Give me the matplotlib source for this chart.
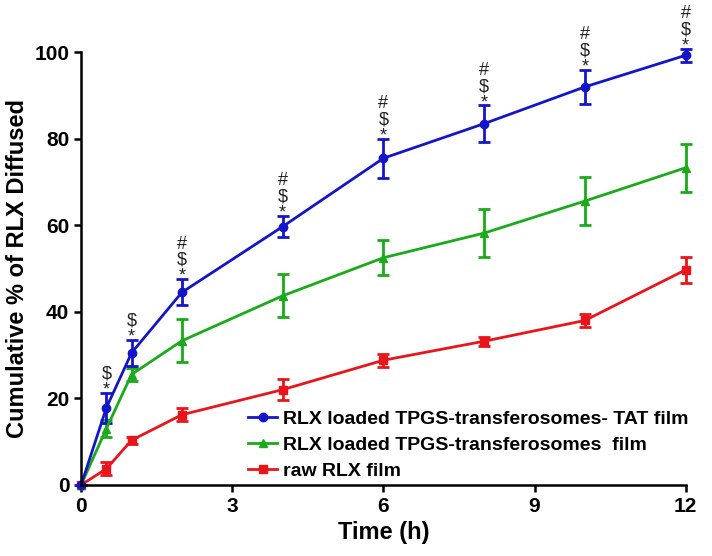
import matplotlib.pyplot as plt
from matplotlib.lines import Line2D

plt.rcParams['font.family'] = ['Liberation Sans', 'DejaVu Sans']

time = [0, 0.5, 1, 2, 4, 6, 8, 10, 12]

tat = [0, 17.8, 30.5, 44.5, 59.7, 75.5, 83.5, 92.0, 99.3]
tat_err = [0, 3.5, 3.0, 3.0, 2.5, 4.5, 4.2, 4.0, 1.5]

tpgs = [0, 13.0, 25.5, 33.3, 43.7, 52.5, 58.2, 65.6, 73.3]
tpgs_err = [0, 2.0, 1.5, 5.0, 5.0, 4.0, 5.5, 5.5, 5.5]

raw = [0, 3.7, 10.3, 16.2, 22.0, 28.8, 33.2, 38.0, 49.7]
raw_err = [0, 1.5, 0.8, 1.5, 2.5, 1.5, 1.0, 1.5, 3.0]

marks = ["", "$\n*", "$\n*", "#\n$\n*", "#\n$\n*", "#\n$\n*", "#\n$\n*", "#\n$\n*", "#\n$\n*"]

labels = ["RLX loaded TPGS-transferosomes- TAT film",
          "RLX loaded TPGS-transferosomes  film",
          "raw RLX film"]
colors = ["#1515c8", "#1aaa1a", "#e8161b"]
markers = ["o", "^", "s"]

fig = plt.figure(figsize=(7.12, 5.56), dpi=100)
ax = fig.add_axes([0.114, 0.128, 0.849, 0.778])

for y, e, c, m in zip([raw, tpgs, tat], [raw_err, tpgs_err, tat_err], colors[::-1], markers[::-1]):
    ax.errorbar(time, y, yerr=e, color=c, marker=m, markersize=6,
                linewidth=2, capsize=4, elinewidth=2, capthick=2, clip_on=False)

for t, v, e, m in zip(time, tat, tat_err, marks):
    if m:
        ax.annotate(m, (t, v + e), xytext=(0, -4), textcoords="offset points",
                    ha="center", va="bottom", fontsize=13, color="#222222",
                    linespacing=0.92, annotation_clip=False)

ax.set_xlim(0, 12)
ax.set_ylim(0, 100)
ax.set_xticks([0, 3, 6, 9, 12])
ax.set_yticks([0, 20, 40, 60, 80, 100])
ax.spines['top'].set_visible(False)
ax.spines['right'].set_visible(False)
ax.spines['left'].set_linewidth(1.8)
ax.spines['bottom'].set_linewidth(1.8)
ax.tick_params(width=1.8, length=5, labelsize=15)
for lab in ax.get_xticklabels() + ax.get_yticklabels():
    lab.set_fontweight("bold")

ax.set_xlabel("Time (h)", fontsize=17, fontweight="bold")
ax.set_ylabel("Cumulative % of RLX Diffused", fontsize=17, fontweight="bold")

handles = [Line2D([], [], color=c, marker=m, markersize=6, linewidth=2)
           for c, m in zip(colors, markers)]
leg = ax.legend(handles, labels, loc="lower left", bbox_to_anchor=(0.276, 0.012),
                frameon=False, fontsize=14, handlelength=1.5, labelspacing=0.42,
                handletextpad=0.3, borderpad=0, borderaxespad=0)
for txt in leg.get_texts():
    txt.set_fontweight("bold")

fig.savefig("out.png", dpi=100)
